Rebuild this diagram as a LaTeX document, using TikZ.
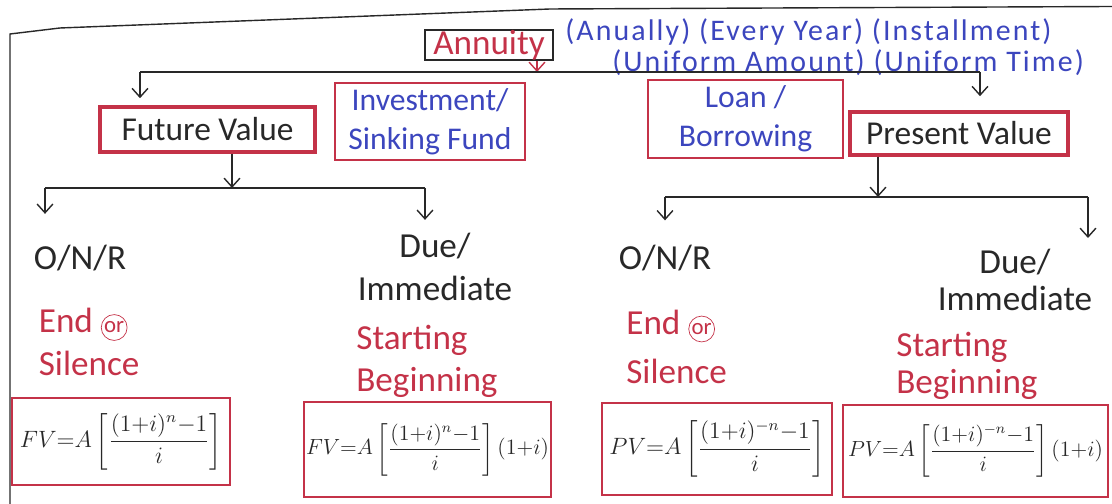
\documentclass[tikz,border=0pt]{standalone}
\usepackage{amsmath}
\usepackage{fontspec}
\setmainfont{Carlito}
\usepackage{tikz}
\usetikzlibrary{arrows.meta, positioning}

\definecolor{penred}{RGB}{196,50,72}
\definecolor{penblue}{RGB}{60,70,190}
\definecolor{penink}{RGB}{40,40,40}
\newcommand{\circor}{\tikz[baseline=(o.base)]\node[circle, draw, inner sep=0.6pt, font=\fontsize{13}{13}\selectfont] (o) {or};}
\newcommand{\annform}[2][1.12]{\scalebox{#1}{$#2$}}

\begin{document}
\begin{tikzpicture}[
    valuebox/.style={draw=penred, line width=2pt, minimum height=0.88cm, text=penink, font=\fontsize{19}{22}\selectfont},
    usebox/.style={draw=penred, line width=1.2pt, align=center, text=penblue, font=\fontsize{18}{22}\selectfont},
    formbox/.style={draw=penred, line width=1.2pt, inner sep=1pt, text=penink, font=\large},
    hand/.style={text=penink, align=center, font=\fontsize{20}{24}\selectfont},
    redhand/.style={text=penred, align=left, inner sep=2pt, font=\fontsize{20}{24}\selectfont},
    traits/.style={anchor=west, inner sep=0pt, text=penblue, font=\fontsize{17}{20}\selectfont\addfontfeatures{LetterSpace=7}},
    connect/.style={-{Straight Barb[length=5pt, width=9pt]}, line width=0.8pt, penink},
    branch/.style={line width=0.8pt, penink},
]
  \useasboundingbox (0,0) rectangle (22.24,10.08);
  \draw[branch] (0.2,0) -- (0.2,9.4) -- (1.2,9.52) -- (11,9.9) -- (22.24,9.95);

  \node[draw=penink, line width=1pt, minimum width=2.56cm, minimum height=0.6cm, inner sep=0pt, text=penred, font=\fontsize{20}{22}\selectfont] (annuity) at (9.78,9.18) {Annuity};
  \node[traits] (traits1) at (11.3,9.44) {(Anually) (Every Year) (Installment)};
  \node[traits] (traits2) at (12.24,8.83) {(Uniform Amount) (Uniform Time)};

  \coordinate (split) at (10.74,8.64);
  \coordinate (splitl) at (2.8,8.64);
  \coordinate (splitr) at (19.6,8.64);
  \draw[connect, penred] (annuity.south -| split) -- (split);
  \draw[branch] (splitl) -- (splitr);

  \node[valuebox, minimum width=4.3cm, minimum height=0.9cm] (fv) at (4.15,7.49) {Future Value};
  \node[usebox, minimum width=3.8cm, minimum height=1.54cm] (invest) at (8.6,7.65) {Investment/\\Sinking Fund};
  \node[usebox, minimum width=3.9cm, minimum height=1.56cm] (loan) at (14.91,7.7) {Loan /\\Borrowing};
  \node[valuebox, minimum width=4.36cm, minimum height=0.86cm] (pv) at (19.18,7.41) {Present Value};
  \draw[connect, shorten >=4pt] (splitl) -- (splitl |- fv.north);
  \draw[connect, shorten >=8pt] (splitr) -- (splitr |- pv.north);

  \coordinate (fvsplit) at (4.64,6.32);
  \coordinate (fvl) at (0.9,6.32);
  \coordinate (fvr) at (8.5,6.32);
  \coordinate (pvsplit) at (17.56,6.14);
  \coordinate (pvl) at (13.3,6.14);
  \coordinate (pvr) at (21.76,6.14);
  \draw[connect] (fv.south -| fvsplit) -- (fvsplit);
  \draw[branch] (fvl) -- (fvr);
  \draw[connect] (pv.south -| pvsplit) -- (pvsplit);
  \draw[branch] (pvl) -- (pvr);

  \node[hand] (onr1) at (1.6,4.92) {O/N/R};
  \node[hand] (due1) at (8.7,4.74) {Due/\\Immediate};
  \node[hand] (onr2) at (13.3,4.92) {O/N/R};
  \node[hand, font=\fontsize{20}{21}\selectfont] (due2) at (20.3,4.48) {Due/\\Immediate};
  \draw[connect, shorten >=0.5cm] (fvl) -- (fvl |- onr1.north);
  \draw[connect, shorten >=0.15cm] (fvr) -- (fvr |- due1.north);
  \draw[connect, shorten >=0.37cm] (pvl) -- (pvl |- onr2.north);
  \draw[connect, shorten >=0.1cm] (pvr) -- (pvr |- due2.north);

  \node[redhand, anchor=west] (end1) at (0.7,3.24) {End \circor\\Silence};
  \node[redhand, anchor=west] (start1) at (7.05,2.86) {Starting\\Beginning};
  \node[redhand, anchor=west, font=\fontsize{20}{28}\selectfont] (end2) at (12.45,3.14) {End \circor\\Silence};
  \node[redhand, anchor=west, font=\fontsize{20}{21}\selectfont] (start2) at (17.85,2.76) {Starting\\Beginning};

  \node[formbox, minimum width=4.36cm, minimum height=1.74cm] (f1) at (2.42,1.25) {\annform{FV{=}A\left[\dfrac{(1{+}i)^n{-}1}{i}\right]}};
  \node[formbox, minimum width=4.9cm, minimum height=1.9cm] (f2) at (8.55,1.09) {\annform[1.04]{FV{=}A\left[\dfrac{(1{+}i)^n{-}1}{i}\right](1{+}i)}};
  \node[formbox, minimum width=4.6cm, minimum height=1.84cm] (f3) at (14.34,1.1) {\annform{PV{=}A\left[\dfrac{(1{+}i)^{-n}{-}1}{i}\right]}};
  \node[formbox, minimum width=5.3cm, minimum height=1.84cm] (f4) at (19.51,1.06) {\annform[1.04]{PV{=}A\left[\dfrac{(1{+}i)^{-n}{-}1}{i}\right](1{+}i)}};
\end{tikzpicture}
\end{document}
